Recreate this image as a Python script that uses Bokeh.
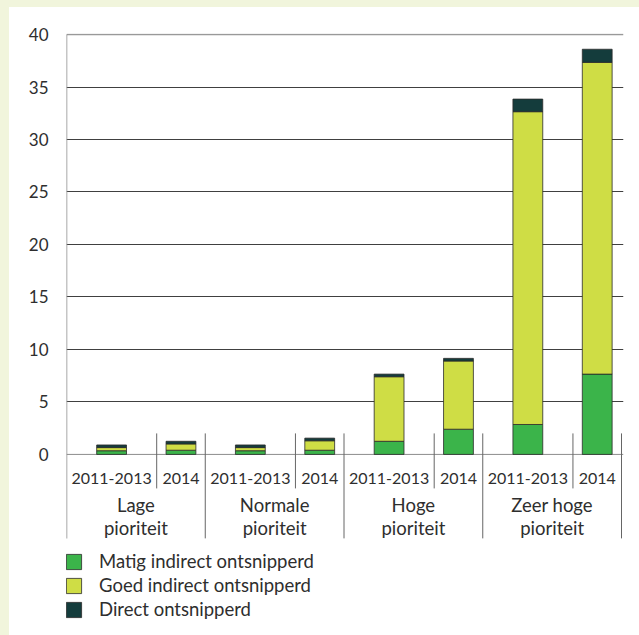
from bokeh.plotting import figure
from bokeh.models import ColumnDataSource, Range1d, FixedTicker, Span
from bokeh.core.properties import value
from bokeh.embed import file_html
from bokeh.resources import INLINE

# ---------------- data ----------------
groups = ["Lage\npioriteit", "Normale\npioriteit", "Hoge\npioriteit", "Zeer hoge\npioriteit"]
periods = ["2011-2013", "2014"]
matig = [0.35, 0.40, 0.35, 0.40, 1.25, 2.40, 2.85, 7.65]
goed = [0.30, 0.60, 0.30, 0.90, 6.15, 6.50, 29.80, 29.70]
direct = [0.25, 0.25, 0.25, 0.25, 0.25, 0.25, 1.20, 1.25]
series = ["Matig indirect ontsnipperd", "Goed indirect ontsnipperd", "Direct ontsnipperd"]
y_ticks = [0, 5, 10, 15, 20, 25, 30, 35, 40]

# ---------------- style / layout ----------------
colors = ["#3bb44a", "#cfdd45", "#143c3c"]
FONT = value("Lato")
TXT = "#2e2e2e"
NUM_SIZE = "16px"
TICK_SIZE = "17px"
WORD_SIZE = "18.5px"
BAR_SHIFT = 0.65
SUB_SEP = 1.3
BAR_W = 0.43
Y_SUB = -2.29
Y_G1 = -4.86
Y_G2 = -7.05
SEP_TOP = 2.0
SEP_SUB_BOT = -3.24
SEP_BOT = -8.0

n_per = len(periods)
xs, sub_labels = [], []
for gi, g in enumerate(groups):
    for pj, per in enumerate(periods):
        xs.append(gi * n_per + pj + BAR_SHIFT)
        sub_labels.append(per)

src = ColumnDataSource(dict(x=xs, matig=matig, goed=goed, direct=direct))

p = figure(
    frame_width=557, frame_height=592, width=639, height=635,
    x_range=Range1d(0, len(groups) * n_per + 0.0288),
    y_range=Range1d(-16.30, 40.1),
    output_backend="svg", toolbar_location=None,
    min_border_left=66, min_border_top=33, min_border_right=16, min_border_bottom=10,
    background_fill_color="white", border_fill_color=None,
    outline_line_color=None,
)
p.styles = {
    "background": "linear-gradient(to right, #f1f5dc 9px, rgba(255,255,255,0) 9px) no-repeat, "
                  "linear-gradient(to bottom, #f1f5dc 7px, rgba(255,255,255,0) 7px) no-repeat, #ffffff",
}

# grid
p.xgrid.visible = False
p.ygrid.ticker = FixedTicker(ticks=y_ticks[1:-1])
p.ygrid.grid_line_color = "#404040"
p.ygrid.grid_line_width = 1
p.add_layout(Span(location=y_ticks[0], dimension="width", line_color="#8c8c8c", line_width=1, level="underlay"))
p.add_layout(Span(location=y_ticks[-1], dimension="width", line_color="#999999", line_width=1.5, level="underlay"))

# axes
p.xaxis.visible = False
ya = p.yaxis[0]
ya.ticker = FixedTicker(ticks=y_ticks)
ya.axis_line_color = None
ya.major_tick_line_color = None
ya.minor_tick_line_color = None
ya.major_tick_out = 0
ya.major_label_standoff = 18
ya.major_label_text_font = "Lato"
ya.major_label_text_font_size = TICK_SIZE
ya.major_label_text_color = TXT

# y-axis line and category separators
p.segment(x0=[0], y0=[y_ticks[-1]], x1=[0], y1=[SEP_BOT], line_color="#8c8c8c", line_width=1.5)
main_sep = [gi * n_per for gi in range(1, len(groups) + 1)]
p.segment(x0=main_sep, y0=[SEP_TOP] * len(main_sep), x1=main_sep, y1=[SEP_BOT] * len(main_sep),
          line_color="#666666", line_width=1)
sub_sep = [gi * n_per + SUB_SEP for gi in range(len(groups))]
p.segment(x0=sub_sep, y0=[SEP_TOP] * len(sub_sep), x1=sub_sep, y1=[SEP_SUB_BOT] * len(sub_sep),
          line_color="#666666", line_width=1)

# bars
p.vbar_stack(["matig", "goed", "direct"], x="x", width=BAR_W, color=colors, source=src,
             line_color="#2b2b2b", line_width=0.8, legend_label=series)

# category labels
p.text(x=xs, y=[Y_SUB] * len(xs), text=sub_labels, text_align="center", text_baseline="middle",
       text_font=FONT, text_font_size=NUM_SIZE, text_color=TXT)
gx = [gi * n_per + n_per / 2 for gi in range(len(groups))]
p.text(x=gx, y=[Y_G1] * len(gx), text=[g.split("\n")[0] for g in groups], text_align="center",
       text_baseline="middle", text_font=FONT, text_font_size=WORD_SIZE, text_color=TXT)
p.text(x=gx, y=[Y_G2] * len(gx), text=[g.split("\n")[1] for g in groups], text_align="center",
       text_baseline="middle", text_font=FONT, text_font_size=WORD_SIZE, text_color=TXT)

# legend
lg = p.legend[0]
lg.location = (-2, 5)
lg.orientation = "vertical"
lg.border_line_color = None
lg.background_fill_alpha = 0
lg.padding = 0
lg.margin = 0
lg.spacing = 2
lg.glyph_width = 19
lg.glyph_height = 19
lg.label_height = 19
lg.label_standoff = 16
lg.label_text_font = "Lato"
lg.label_text_font_size = WORD_SIZE
lg.label_text_color = TXT

open("out.html", "w").write(file_html(p, INLINE))
